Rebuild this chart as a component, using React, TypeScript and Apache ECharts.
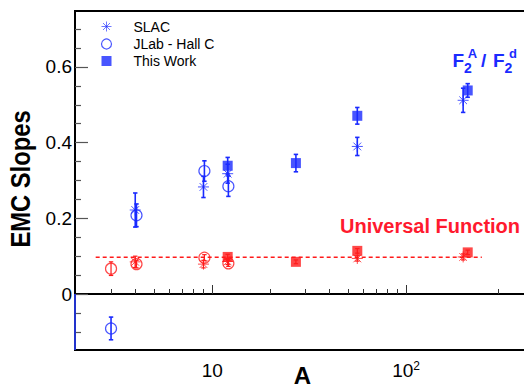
import React, { useEffect, useRef } from 'react';
import * as echarts from 'echarts';

// ---------- data ----------
// F2^A / F2^d slopes
const slacA = [4, 9, 12, 56, 197];
const slacSlope = [0.222, 0.283, 0.318, 0.39, 0.512];
const slacErr = [0.045, 0.028, 0.025, 0.024, 0.032];

const jlabA = [3, 4.06, 9.1, 12.1];
const jlabSlope = [-0.091, 0.208, 0.325, 0.285];
const jlabErr = [0.03, 0.03, 0.027, 0.027];

const workA = [12, 27, 56, 208];
const workSlope = [0.339, 0.346, 0.471, 0.538];
const workErr = [0.022, 0.023, 0.022, 0.018];

// Universal function slopes
const ufSlacA = [4, 9, 12, 56, 197];
const ufSlacSlope = [0.085, 0.079, 0.086, 0.094, 0.098];
const ufSlacErr = [0.015, 0.01, 0.008, 0.007, 0.008];

const ufJlabA = [3, 4.06, 9.1, 12.1];
const ufJlabSlope = [0.067, 0.079, 0.096, 0.081];
const ufJlabErr = [0.018, 0.01, 0.008, 0.008];

const ufWorkA = [12, 27, 56, 208];
const ufWorkSlope = [0.098, 0.085, 0.114, 0.11];
const ufWorkErr = [0.007, 0.005, 0.006, 0.006];

const ufLineA = [2.5, 246];
const ufLineValue = 0.097;

// axes
const xMin = 1.955;
const xMax = 515;
const yMin = -0.148;
const yMax = 0.748;
const xMajorTicks = [10, 100];
const xMinorTicks = [3, 4, 5, 6, 7, 8, 9, 20, 30, 40, 50, 60, 70, 80, 90, 300];
const yMajorTicks = [0, 0.2, 0.4, 0.6];
const yMinorTicks = [-0.1, -0.05, 0.05, 0.1, 0.15, 0.25, 0.3, 0.35, 0.45, 0.5, 0.55, 0.65, 0.7];

const BLUE = '#1a2bff';
const RED = '#ff1a1a';
const FONT = '"Liberation Sans", Arial, Helvetica, sans-serif';
const STAR = 'path://M5,0L5,10M0,5L10,5M1.5,1.5L8.5,8.5M1.5,8.5L8.5,1.5';

const zip = (a: number[], v: number[]) => a.map((x, i) => [x, v[i]]);
const zip3 = (a: number[], v: number[], e: number[]) => a.map((x, i) => [x, v[i], e[i]]);

const errorBarRender = (color: string, width: number) => (params: any, api: any) => {
  const x = api.value(0);
  const y = api.value(1);
  const e = api.value(2);
  const top = api.coord([x, y + e]);
  const bot = api.coord([x, y - e]);
  const h = 2.2;
  const style = { stroke: color, lineWidth: width };
  return {
    type: 'group',
    children: [
      { type: 'line', shape: { x1: top[0], y1: top[1], x2: bot[0], y2: bot[1] }, style },
      { type: 'line', shape: { x1: top[0] - h, y1: top[1], x2: top[0] + h, y2: top[1] }, style },
      { type: 'line', shape: { x1: bot[0] - h, y1: bot[1], x2: bot[0] + h, y2: bot[1] }, style },
    ],
  };
};

const errSeries = (name: string, data: number[][], color: string, width: number) => ({
  type: 'custom',
  name,
  renderItem: errorBarRender(color, width),
  data,
  encode: { x: 0, y: 1 },
  z: 2,
  silent: true,
});

export default function App() {
  const ref = useRef<HTMLDivElement>(null);

  useEffect(() => {
    if (!ref.current) return;
    const chart = echarts.init(ref.current, undefined, { renderer: 'svg' });

    const xAxisBase = {
      type: 'log',
      logBase: 10,
      min: xMin,
      max: xMax,
      splitLine: { show: false },
      z: 3,
    };
    const yAxisBase = {
      type: 'value',
      min: yMin,
      max: yMax,
      splitLine: { show: false },
      z: 3,
    };

    const option: any = {
      animation: false,
      backgroundColor: '#fff',
      grid: {
        left: 75,
        right: -20,
        top: 11,
        bottom: 38,
        show: true,
        borderColor: '#000',
        borderWidth: 2,
        outerBoundsMode: 'none',
        containLabel: false,
      },
      legend: {
        orient: 'vertical',
        left: 99,
        top: 19,
        padding: 0,
        itemWidth: 10,
        itemHeight: 10,
        itemGap: 2.5,
        selectedMode: false,
        data: [
          { name: 'SLAC', itemStyle: { color: 'none', borderColor: BLUE, borderWidth: 0.8 } },
          { name: 'JLab - Hall C', itemStyle: { color: 'none', borderColor: BLUE, borderWidth: 1.2 } },
          { name: 'This Work' },
        ],
        textStyle: {
          fontFamily: FONT,
          fontSize: 14,
          color: '#000',
          padding: [0, 0, 0, 17],
        },
      },
      xAxis: [
        {
          ...xAxisBase,
          position: 'bottom',
          axisLine: { show: true, lineStyle: { color: '#000', width: 2 } },
          axisTick: {
            show: true,
            inside: true,
            length: 9,
            customValues: xMajorTicks,
            lineStyle: { color: '#333', width: 1 },
          },
          axisLabel: {
            show: true,
            customValues: xMajorTicks,
            margin: 10,
            color: '#000',
            fontFamily: FONT,
            fontSize: 19,
            formatter: (v: number) => (Math.abs(v - 100) < 1e-6 ? '{b|10}{s|2}' : '{b|10}'),
            rich: {
              b: { fontFamily: FONT, fontSize: 19, color: '#000', lineHeight: 20 },
              s: { fontFamily: FONT, fontSize: 12, color: '#000', verticalAlign: 'top', lineHeight: 12 },
            },
          },
        },
        {
          ...xAxisBase,
          position: 'bottom',
          axisLine: { show: false },
          axisTick: {
            show: true,
            inside: true,
            length: 5,
            customValues: xMinorTicks,
            lineStyle: { color: '#333', width: 1 },
          },
          axisLabel: { show: false },
        },
      ],
      yAxis: [
        {
          ...yAxisBase,
          position: 'left',
          axisLine: { show: true, lineStyle: { color: '#000', width: 2 } },
          axisTick: {
            show: true,
            inside: true,
            length: 13,
            customValues: yMajorTicks,
            lineStyle: { color: '#555', width: 1.2 },
          },
          axisLabel: {
            show: true,
            customValues: yMajorTicks,
            margin: 3,
            color: '#000',
            fontFamily: FONT,
            fontSize: 19,
            formatter: (v: number) => String(Math.round(v * 10) / 10),
          },
        },
        {
          ...yAxisBase,
          position: 'left',
          axisLine: { show: false },
          axisTick: {
            show: true,
            inside: true,
            length: 6,
            customValues: yMinorTicks,
            lineStyle: { color: '#555', width: 1.2 },
          },
          axisLabel: { show: false },
        },
      ],
      graphic: [
        {
          type: 'text',
          x: 20.7,
          y: 179,
          rotation: Math.PI / 2,
          scaleX: 0.88,
          style: {
            text: 'EMC Slopes',
            fontFamily: FONT,
            fontSize: 27,
            fontWeight: 'bold',
            fill: '#000',
            align: 'center',
            verticalAlign: 'middle',
            textAlign: 'center',
            textVerticalAlign: 'middle',
          },
        },
        {
          type: 'text',
          x: 302.5,
          y: 387,
          style: {
            text: 'A',
            fontFamily: FONT,
            fontSize: 24,
            fontWeight: 'bold',
            fill: '#000',
            align: 'center',
            verticalAlign: 'bottom',
            textAlign: 'center',
            textVerticalAlign: 'bottom',
          },
        },
        {
          type: 'text',
          x: 340,
          y: 226,
          style: {
            text: 'Universal Function',
            fontFamily: FONT,
            fontSize: 20,
            fontWeight: 'bold',
            fill: '#ff1a2e',
            align: 'left',
            verticalAlign: 'middle',
            textAlign: 'left',
            textVerticalAlign: 'middle',
          },
        },
        ...[
          { t: 'F', x: 452.5, y: 60, s: 19 },
          { t: '2', x: 464, y: 68, s: 14 },
          { t: 'A', x: 467.8, y: 53, s: 13 },
          { t: '/', x: 481, y: 60, s: 19 },
          { t: 'F', x: 493, y: 60, s: 19 },
          { t: '2', x: 504.5, y: 68, s: 14 },
          { t: 'd', x: 509, y: 53, s: 13 },
        ].map((p) => ({
          type: 'text',
          x: p.x,
          y: p.y,
          style: {
            text: p.t,
            fontFamily: FONT,
            fontSize: p.s,
            fontWeight: 'bold',
            fill: BLUE,
            align: 'left',
            verticalAlign: 'middle',
            textAlign: 'left',
            textVerticalAlign: 'middle',
          },
        })),
      ],
      series: [
        // reference lines
        {
          type: 'line',
          name: 'zero',
          data: [],
          silent: true,
          markLine: {
            silent: true,
            symbol: 'none',
            z: 1,
            label: { show: false },
            lineStyle: { color: '#8c90d8', width: 2, type: 'solid' },
            data: [{ yAxis: 0 }],
          },
        },
        {
          type: 'line',
          name: 'leftseg',
          data: [],
          silent: true,
          z: 10,
          markLine: {
            silent: true,
            symbol: 'none',
            z: 10,
            label: { show: false },
            lineStyle: { color: '#2233cc', width: 2, type: 'solid' },
            data: [[{ coord: [xMin, yMin] }, { coord: [xMin, 0] }]],
          },
        },
        {
          type: 'line',
          name: 'Universal line',
          data: zip(ufLineA, ufLineA.map(() => ufLineValue)),
          symbol: 'none',
          silent: true,
          lineStyle: { color: RED, width: 1.5, type: [4, 3] },
          z: 2,
        },
        // error bars
        errSeries('slacErr', zip3(slacA, slacSlope, slacErr), BLUE, 1.6),
        errSeries('jlabErr', zip3(jlabA, jlabSlope, jlabErr), BLUE, 1.6),
        errSeries('workErr', zip3(workA, workSlope, workErr), BLUE, 1.6),
        errSeries('ufSlacErr', zip3(ufSlacA, ufSlacSlope, ufSlacErr), RED, 1.2),
        errSeries('ufJlabErr', zip3(ufJlabA, ufJlabSlope, ufJlabErr), RED, 1.2),
        errSeries('ufWorkErr', zip3(ufWorkA, ufWorkSlope, ufWorkErr), RED, 1.2),
        // markers
        {
          type: 'scatter',
          name: 'SLAC',
          data: zip(slacA, slacSlope),
          symbol: STAR,
          symbolSize: 11,
          itemStyle: { color: 'none', borderColor: BLUE, borderWidth: 1 },
          z: 4,
        },
        {
          type: 'scatter',
          name: 'JLab - Hall C',
          data: zip(jlabA, jlabSlope),
          symbol: 'circle',
          symbolSize: 11,
          itemStyle: { color: 'none', borderColor: BLUE, borderWidth: 1.2 },
          z: 4,
        },
        {
          type: 'scatter',
          name: 'This Work',
          data: zip(workA, workSlope),
          symbol: 'rect',
          symbolSize: 10,
          itemStyle: { color: BLUE },
          z: 5,
        },
        {
          type: 'scatter',
          name: 'SLAC (UF)',
          data: zip(ufSlacA, ufSlacSlope),
          symbol: STAR,
          symbolSize: 11,
          itemStyle: { color: 'none', borderColor: RED, borderWidth: 1 },
          z: 4,
        },
        {
          type: 'scatter',
          name: 'JLab - Hall C (UF)',
          data: zip(ufJlabA, ufJlabSlope),
          symbol: 'circle',
          symbolSize: 11,
          itemStyle: { color: 'none', borderColor: RED, borderWidth: 1.2 },
          z: 4,
        },
        {
          type: 'scatter',
          name: 'This Work (UF)',
          data: zip(ufWorkA, ufWorkSlope),
          symbol: 'rect',
          symbolSize: 10,
          itemStyle: { color: RED },
          z: 5,
        },
      ],
    };

    chart.setOption(option);
    return () => chart.dispose();
  }, []);

  return (
    <div
      ref={ref}
      style={{ position: 'fixed', left: 0, top: 0, width: 524, height: 388, background: '#fff' }}
    />
  );
}
